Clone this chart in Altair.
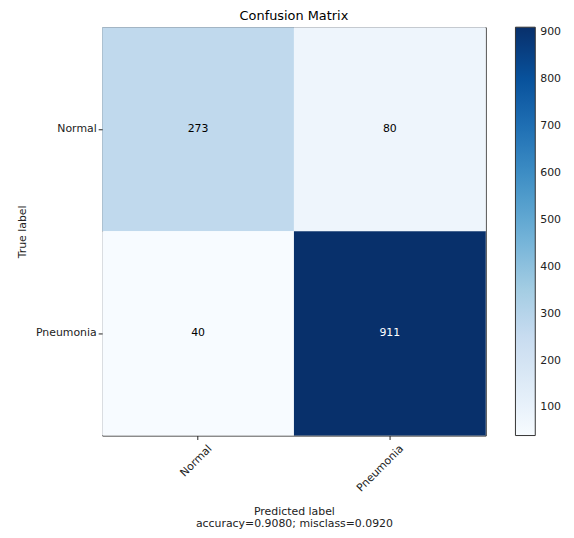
import altair as alt
import pandas as pd

true_labels = ["Normal", "Normal", "Pneumonia", "Pneumonia"]
pred_labels = ["Normal", "Pneumonia", "Normal", "Pneumonia"]
counts = [273, 80, 40, 911]
classes = ["Normal", "Pneumonia"]
legend_ticks = [100, 200, 300, 400, 500, 600, 700, 800, 900]
blues = ["#f7fbff", "#deebf7", "#c6dbef", "#9ecae1", "#6baed6",
         "#4292c6", "#2171b5", "#08519c", "#08306b"]

df = pd.DataFrame({"true": true_labels, "pred": pred_labels, "count": counts})

FONT = "DejaVu Sans"

base = alt.Chart(df)

heat = base.mark_rect().encode(
    x=alt.X("pred:N", sort=classes, scale=alt.Scale(paddingInner=0, paddingOuter=0),
            axis=alt.Axis(title=["Predicted label", "accuracy=0.9080; misclass=0.0920"],
                          labelAngle=-45, labelAlign="right", labelBaseline="top",
                          labelOffset=8, labelPadding=3,
                          titlePadding=12, titleFontWeight="normal")),
    y=alt.Y("true:N", sort=classes, scale=alt.Scale(paddingInner=0, paddingOuter=0),
            axis=alt.Axis(title="True label", titleFontWeight="normal", titlePadding=8)),
    color=alt.Color("count:Q",
                    scale=alt.Scale(domain=[40, 911], range=blues, interpolate="rgb"),
                    legend=alt.Legend(title=None, values=legend_ticks,
                                      gradientLength=412, gradientThickness=20,
                                      gradientStrokeColor="#333", gradientStrokeWidth=1,
                                      offset=30, labelFontSize=11, labelFont=FONT,
                                      labelColor="#222", labelOffset=5)),
)

text = base.mark_text(fontSize=11, font=FONT).encode(
    x=alt.X("pred:N", sort=classes),
    y=alt.Y("true:N", sort=classes),
    text=alt.Text("count:Q"),
    color=alt.condition(alt.datum.count > 455, alt.value("white"), alt.value("black")),
)

chart = (heat + text).properties(
    width=387, height=412,
    padding={"left": 8, "top": 0, "right": 5, "bottom": 5},
    title=alt.Title("Confusion Matrix", fontSize=13, fontWeight="normal", font=FONT, offset=4),
).configure_view(stroke="#222", strokeWidth=1).configure_axis(
    labelFont=FONT, titleFont=FONT, labelFontSize=11, titleFontSize=11,
    labelColor="#222", titleColor="#222", domain=False,
    tickColor="#222", tickSize=4, grid=False,
)

chart.save("out.html", embed_options={"renderer": "svg", "actions": False})
